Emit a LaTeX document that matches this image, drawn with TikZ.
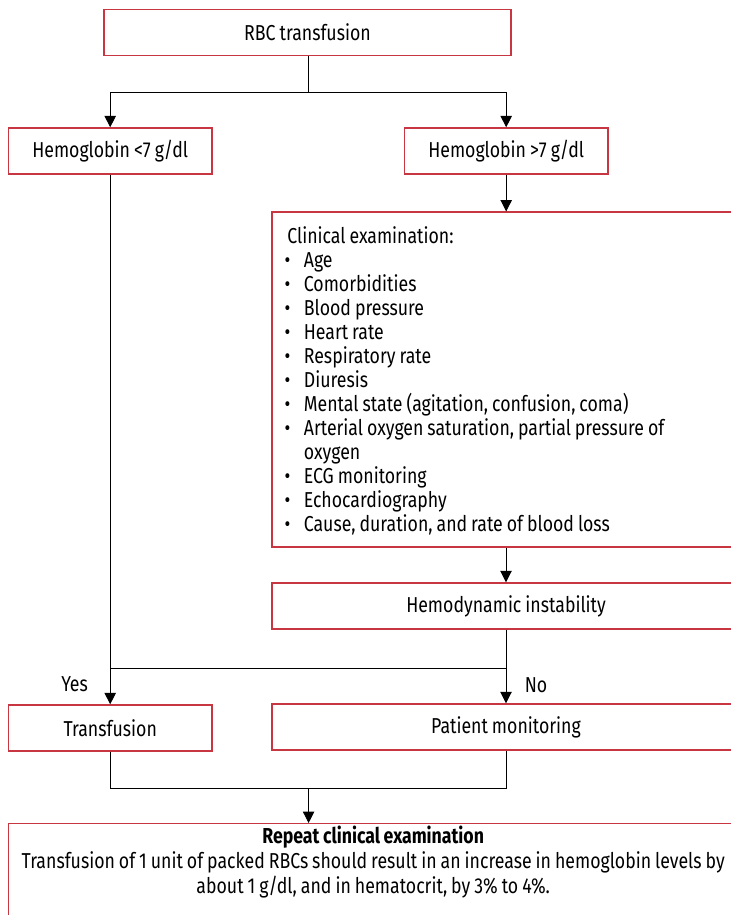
\documentclass[tikz,border=0pt]{standalone}
\usepackage{fontspec}
\setmainfont{Fira Sans}[FakeStretch=0.82, WordSpace=0.85]
\usepackage{tikz}
\usetikzlibrary{arrows.meta, positioning, calc}
\definecolor{boxred}{RGB}{200, 55, 65}
\newcommand{\blt}{\makebox[14.4pt][l]{\textbullet}}

\begin{document}
\begin{tikzpicture}[x=0.75pt, y=-0.75pt,
    font=\fontsize{16.2}{18}\selectfont,
    box/.style={draw=boxred, line width=1.1pt, minimum height=34.5pt, inner sep=0pt, align=center},
    smallbox/.style={box, minimum width=152.7pt},
    widebox/.style={box, minimum width=351pt},
    link/.style={line width=0.7pt},
    arr/.style={link, -{Triangle[width=8.5pt, length=8.5pt]}}]
  % page frame, the right and lower boxes run past it
  \useasboundingbox (0,0) rectangle (731,915);
  \clip (0,0) rectangle (731,915);
  % boxes
  \node[box, minimum width=305pt] (rbc) at (307.5,32.3) {RBC transfusion};
  \node[smallbox] (hblow) at (110.2,151) {Hemoglobin <7 g/dl};
  \node[smallbox] (hbhigh) at (506.2,151) {Hemoglobin >7 g/dl};
  \node[widebox, minimum height=251pt, text width=332pt, inner xsep=9.5pt, align=flush left] (clin) at (506,379.5)
    {\rule{0pt}{15pt}\hspace{2pt}Clinical examination:\\
      \blt Age\\
      \blt Comorbidities\\
      \blt Blood pressure\\
      \blt Heart rate\\
      \blt Respiratory rate\\
      \blt Diuresis\\
      \blt Mental state (agitation, confusion, coma)\\
      \blt Arterial oxygen saturation, partial pressure of\\
      \hspace*{14.4pt}oxygen\\
      \blt ECG monitoring\\
      \blt Echocardiography\\
      \blt Cause, duration, and rate of blood loss};
  \node[widebox] (hemo) at (506,606) {Hemodynamic instability};
  \node[smallbox] (transf) at (110.2,728) {Transfusion};
  \node[widebox] (monitor) at (506,727) {Patient monitoring};
  \node[draw=boxred, line width=1.1pt, inner sep=0pt, anchor=north] (repeat) at (373.2,823)
    {\parbox[c][90pt][t]{547pt}{\centering\rule{0pt}{15pt}\textbf{Repeat clinical examination}\\[0.75pt]
      Transfusion of 1 unit of packed RBCs should result in an increase in hemoglobin levels by\\[0.75pt]
      about 1 g/dl, and in hematocrit, by 3\% to 4\%.}};
  % branch points
  \coordinate (split) at (308.6,92);
  \coordinate (join) at (506,668);
  \coordinate (merge) at (308.6,788);
  % connectors
  \draw[link] (rbc.south -| split) -- (split);
  \draw[arr] (split) -| (hblow.north);
  \draw[arr] (split) -| (hbhigh.north);
  \draw[arr] (hbhigh.south) -- (hbhigh.south |- clin.north);
  \draw[arr] (clin.south) -- (hemo.north);
  \draw[arr] (hemo.south) -- (monitor.north);
  \draw[arr] (hblow.south) -- (transf.north);
  \draw[link] (join) -- (hblow.south |- join);
  \draw[link] (transf.south) |- (monitor.south |- merge) -- (monitor.south);
  \draw[arr] (merge) -- (merge |- repeat.north);
  % answers
  \node (yes) at (74.6,684) {Yes};
  \node (no) at (536,685) {No};
\end{tikzpicture}
\end{document}
